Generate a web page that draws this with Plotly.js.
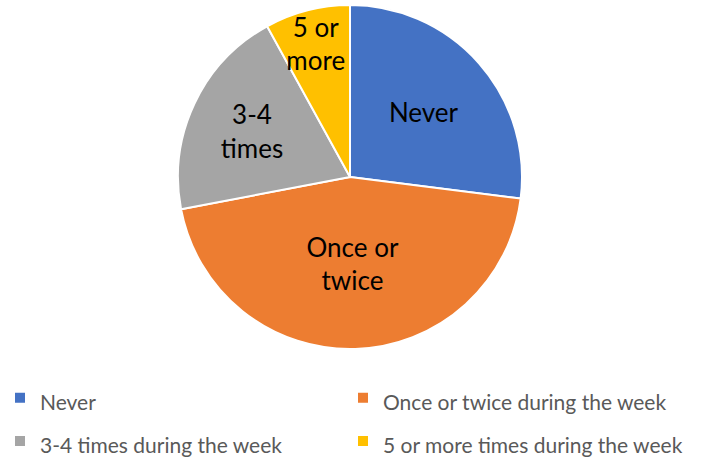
<!DOCTYPE html>
<html>
<head>
<meta charset="utf-8">
<script src="https://cdn.plot.ly/plotly-3.0.1.min.js"></script>
<style>html,body{margin:0;padding:0;background:#fff;}#chart{width:713px;height:459px;}</style>
</head>
<body>
<div id="chart"></div>
<script>
const categories = ["Never", "Once or twice during the week", "3-4 times during the week", "5 or more times during the week"];
const sliceLabels = ["Never", "Once or<br>twice", "3-4<br>times", "5 or<br>more"];
const values = [27, 45, 20, 8];
const colors = ["#4472C4", "#ED7D31", "#A5A5A5", "#FFC000"];

const W = 713, H = 459;
const legendTextSize = 21;
const trace = {
  type: "pie",
  labels: categories.map(c => '<span style="font-size:' + legendTextSize + 'px">' + c + '</span>'),
  values: values,
  text: sliceLabels,
  textinfo: "text",
  textposition: "inside",
  insidetextorientation: "horizontal",
  textfont: {family: "Lato, 'Open Sans', sans-serif", size: 26, color: "#000000"},
  sort: false,
  direction: "clockwise",
  rotation: 0,
  marker: {colors: colors, line: {color: "#ffffff", width: 2}},
  domain: {x: [178 / W, 522 / W], y: [(H - 349) / H, (H - 5) / H]},
  hoverinfo: "percent"
};
const layout = {
  width: W, height: H,
  margin: {l: 0, r: 0, t: 0, b: 0, autoexpand: false},
  paper_bgcolor: "#ffffff",
  showlegend: true,
  uniformtext: {minsize: 26, mode: "show"},
  legend: {
    orientation: "h",
    x: 0, xanchor: "left",
    y: (H - 371) / H, yanchor: "top",
    entrywidth: 298,
    entrywidthmode: "pixels",
    font: {family: "Lato, 'Open Sans', sans-serif", size: 31, color: "#595959"},
    bgcolor: "rgba(0,0,0,0)"
  }
};
Plotly.newPlot("chart", [trace], layout, {displayModeBar: false, staticPlot: true});
</script>
</body>
</html>
